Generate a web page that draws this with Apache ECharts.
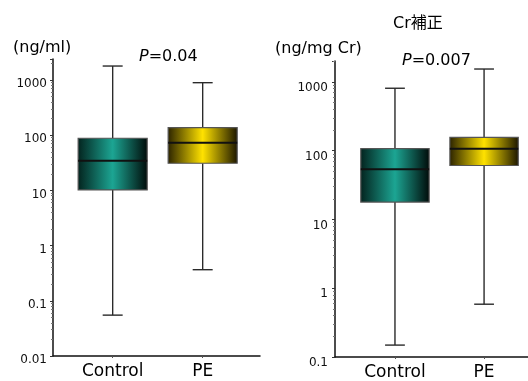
<!DOCTYPE html>
<html>
<head>
<meta charset="utf-8">
<script src="https://cdn.jsdelivr.net/npm/echarts@6/dist/echarts.min.js"></script>
<style>html,body{margin:0;padding:0;background:#fff}#c{width:528px;height:381px}</style>
</head>
<body>
<div id="c"></div>
<script>
// ---- data ----
const categories = ['Control', 'PE'];
// [min, q1, median, q3, max]
const leftControl = [0.055, 10.2, 34.5, 88, 1790];
const leftPE = [0.366, 31, 73, 137, 894];
const rightControl = [0.149, 17.9, 54, 107, 811];
const rightPE = [0.586, 61, 107, 157, 1544];
const leftTitle = '(ng/ml)';
const rightTitle = '(ng/mg Cr)';
const rightHeader = 'Cr補正';
const leftP = '0.04';
const rightP = '0.007';

const FONT = 'DejaVu Sans, "Noto Sans CJK JP", sans-serif';
const fills = [
  { type: 'linear', x: 0, y: 0, x2: 1, y2: 0, colorStops: [
    { offset: 0, color: '#03221d' }, { offset: 0.5, color: '#1ca593' }, { offset: 1, color: '#000a08' }] },
  { type: 'linear', x: 0, y: 0, x2: 1, y2: 0, colorStops: [
    { offset: 0, color: '#2a2200' }, { offset: 0.5, color: '#ffe200' }, { offset: 1, color: '#1a1400' }] }
];

function boxData(a, b) {
  return [[0].concat(a), [1].concat(b)];
}

function renderBox(params, api) {
  const x = api.value(0);
  const vmin = api.value(1), q1 = api.value(2), med = api.value(3), q3 = api.value(4), vmax = api.value(5);
  const pMin = api.coord([x, vmin]);
  const pQ1 = api.coord([x, q1]);
  const pMed = api.coord([x, med]);
  const pQ3 = api.coord([x, q3]);
  const pMax = api.coord([x, vmax]);
  const unit = api.coord([x + 1, med])[0] - pMed[0];
  const bw = unit * 0.767;
  const cw = unit * 0.222;
  const cx = pMed[0];
  const lineStyle = { stroke: '#2a2a2a', lineWidth: 1.4 };
  return {
    type: 'group',
    children: [
      { type: 'line', shape: { x1: cx, y1: pMax[1], x2: cx, y2: pQ3[1] }, style: lineStyle },
      { type: 'line', shape: { x1: cx, y1: pQ1[1], x2: cx, y2: pMin[1] }, style: lineStyle },
      { type: 'line', shape: { x1: cx - cw / 2, y1: pMax[1], x2: cx + cw / 2, y2: pMax[1] }, style: lineStyle },
      { type: 'line', shape: { x1: cx - cw / 2, y1: pMin[1], x2: cx + cw / 2, y2: pMin[1] }, style: lineStyle },
      { type: 'rect', shape: { x: cx - bw / 2, y: pQ3[1], width: bw, height: pQ1[1] - pQ3[1] },
        style: { fill: fills[x], stroke: '#555', lineWidth: 1.2 } },
      { type: 'line', shape: { x1: cx - bw / 2, y1: pMed[1], x2: cx + bw / 2, y2: pMed[1] },
        style: { stroke: '#111', lineWidth: 2 } }
    ]
  };
}

function yAxis(gridIndex, min, max, padTop, margin) {
  return {
    gridIndex: gridIndex, type: 'log', logBase: 10, min: min, max: max,
    axisLine: { show: true, onZero: false, lineStyle: { color: '#111', width: 1.5 } },
    axisTick: { show: true, length: 3, lineStyle: { color: '#333' } },
    minorTick: { show: true, splitNumber: 9, length: 2, lineStyle: { color: '#777' } },
    splitLine: { show: false },
    axisLabel: { color: '#111', fontSize: 12, fontFamily: FONT, margin: margin,
      showMaxLabel: false,
      formatter: function (v) { return '{a|' + String(v) + '}'; },
      rich: { a: { fontSize: 12, fontFamily: FONT, color: '#111', padding: [padTop, 0, 0, 0] } } }
  };
}

function xAxis(gridIndex, min, max) {
  return {
    gridIndex: gridIndex, type: 'value', min: min, max: max,
    axisLine: { show: true, onZero: false, lineStyle: { color: '#111', width: 1.5 } },
    axisTick: { show: true, length: 2, customValues: [0, 1], lineStyle: { color: '#555' } },
    splitLine: { show: false },
    axisLabel: { customValues: [0, 1], color: '#000', fontSize: 17, fontFamily: FONT, margin: 7,
      formatter: function (v) { return categories[Math.round(v)]; } }
  };
}

const chart = echarts.init(document.getElementById('c'));
chart.setOption({
  animation: false,
  grid: [
    { left: 53, top: 59, width: 207, height: 297 },
    { left: 335, top: 61, width: 193, height: 296.5 }
  ],
  xAxis: [xAxis(0, -0.663, 1.637), xAxis(1, -0.673, 1.493)],
  yAxis: [yAxis(0, 0.01, 2400, 8, 6), yAxis(1, 0.1, 2020, 12, 7)],
  series: [
    { type: 'custom', xAxisIndex: 0, yAxisIndex: 0, renderItem: renderBox, clip: false,
      data: boxData(leftControl, leftPE) },
    { type: 'custom', xAxisIndex: 1, yAxisIndex: 1, renderItem: renderBox, clip: false,
      data: boxData(rightControl, rightPE) }
  ],
  graphic: [
    { type: 'text', left: 13, top: 40, style: { text: leftTitle, fontSize: 16, fontFamily: FONT, fill: '#000' } },
    { type: 'text', left: 139, top: 49, style: { text: '{i|P}=' + leftP, fontSize: 16, fontFamily: FONT, fill: '#000',
      rich: { i: { fontStyle: 'italic', fontSize: 16, fontFamily: FONT } } } },
    { type: 'text', left: 393, top: 16, style: { text: rightHeader, fontSize: 16, fontFamily: FONT, fill: '#000' } },
    { type: 'text', left: 275, top: 41, style: { text: rightTitle, fontSize: 16, fontFamily: FONT, fill: '#000' } },
    { type: 'text', left: 402, top: 53, style: { text: '{i|P}=' + rightP, fontSize: 16, fontFamily: FONT, fill: '#000',
      rich: { i: { fontStyle: 'italic', fontSize: 16, fontFamily: FONT } } } }
  ]
});
</script>
</body>
</html>
